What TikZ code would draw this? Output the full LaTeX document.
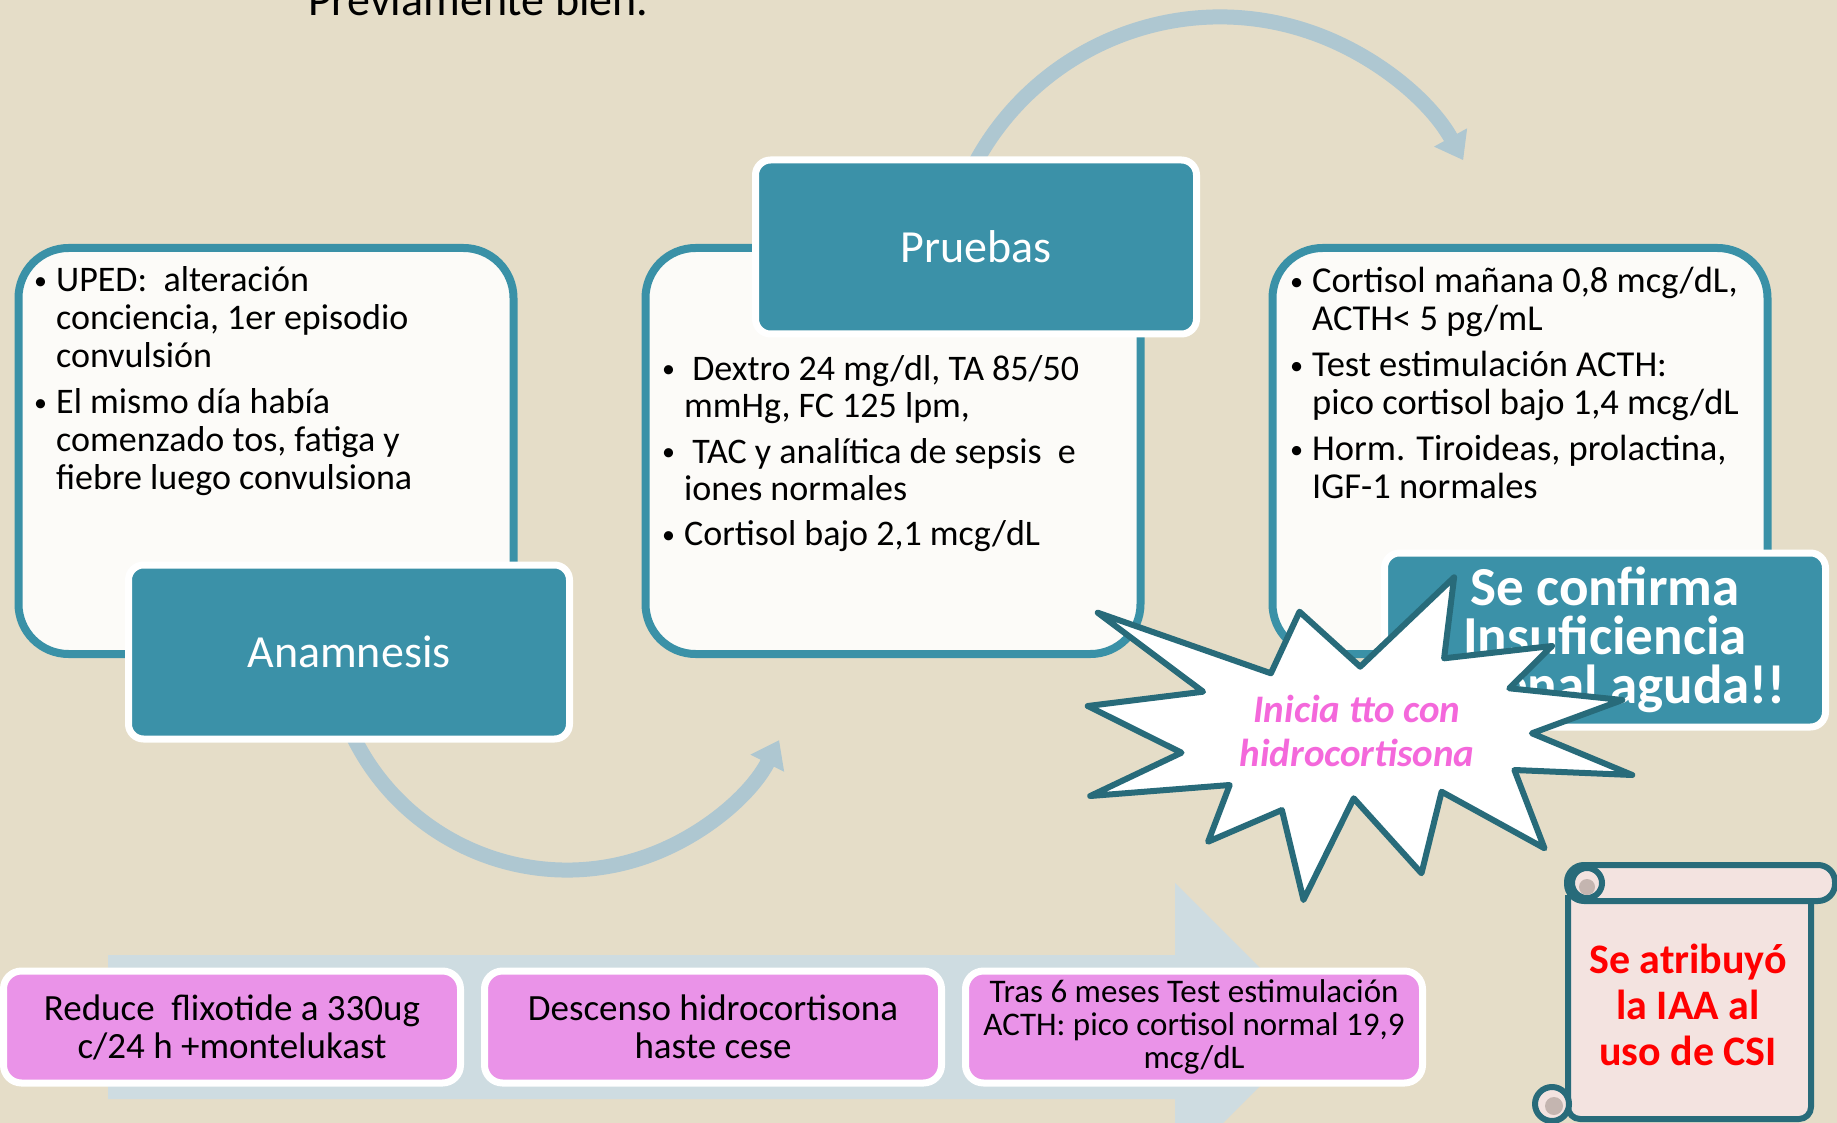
\documentclass[tikz,border=0pt]{standalone}
\usepackage{fontspec}
\setmainfont{Carlito}
\usetikzlibrary{arrows.meta,positioning}

\definecolor{bgbeige}{HTML}{E5DDC8}
\definecolor{tealhead}{HTML}{3B91A8}
\definecolor{tealline}{HTML}{3A91A7}
\definecolor{boxfill}{HTML}{FCFBF8}
\definecolor{arcblue}{HTML}{AEC7D1}
\definecolor{bigarrow}{HTML}{CEDCE1}
\definecolor{pinkbox}{HTML}{EA93E8}
\definecolor{starline}{HTML}{286B7A}
\definecolor{startext}{HTML}{F468DB}
\definecolor{scrollfill}{HTML}{F3E3E0}
\definecolor{curlgray}{HTML}{C4B5B0}

\newcommand{\bul}{\makebox[22pt][l]{\raisebox{2pt}{\scalebox{0.72}{\textbullet}}}}
\newcommand{\ind}{\hspace*{22pt}}

\begin{document}
\begin{tikzpicture}[x=1pt,y=-1pt,node distance=481pt,
  infobox/.style={rounded corners=50pt,draw=tealline,line width=8pt,fill=boxfill,minimum width=495pt,minimum height=406pt},
  headbox/.style={rounded corners=15pt,draw=white,line width=7pt,fill=tealhead,text=white,minimum width=441pt,minimum height=174pt,font=\fontsize{46}{50}\selectfont},
  bullets/.style={anchor=base west,inner sep=0pt,font=\fontsize{36}{38}\selectfont},
  pinkstep/.style={rounded corners=18pt,draw=white,line width=7pt,fill=pinkbox,minimum width=457pt,minimum height=112pt,align=center,font=\fontsize{37}{38}\selectfont},
  arcarrow/.style={draw=arcblue,line width=15pt,-{Triangle[width=36pt,length=26pt]}},
  scrollline/.style={draw=starline,line width=6pt,line join=round}]

\useasboundingbox (0,0) rectangle (1837,1123);
\clip (0,0) rectangle (1837,1123);
\fill[bgbeige] (0,0) rectangle (1837,1123);

\node[anchor=base west,inner sep=0pt,font=\fontsize{46}{50}\selectfont] (previo) at (308,16) {Previamente bien.};

\coordinate (arcAstart) at (343.4,713.4);
\coordinate (arcBstart) at (958.8,199.9);
\draw[arcarrow] (arcAstart) arc[start angle=160,end angle=27,radius=238];
\draw[arcarrow] (arcBstart) arc[start angle=200,end angle=331,radius=278];

\node[infobox] (anabox) at (266,451) {};
\node[infobox] (prubox) [right of = anabox, node distance=627pt] {};
\node[infobox] (diagbox) [right of = prubox, node distance=627pt] {};

\node[bullets] (anatext) at (34,292) {\begin{tabular}[t]{@{}l@{}}\bul UPED:\ \ alteración\\ \ind conciencia, 1er episodio\\ \ind convulsión\\[8pt] \bul El mismo día había\\ \ind comenzado tos, fatiga y\\ \ind fiebre luego convulsiona\end{tabular}};
\node[bullets] (prutext) at (662,380) {\begin{tabular}[t]{@{}l@{}}\bul\ Dextro 24 mg/dl, TA 85/50\\ \ind mmHg, FC 125 lpm,\\[7pt] \bul\ TAC y analítica de sepsis\ \ e\\ \ind iones normales\\[7pt] \bul Cortisol bajo 2,1\ mcg/dL\end{tabular}};
\node[bullets,font=\fontsize{36.5}{38}\selectfont] (diagtext) at (1290,293) {\begin{tabular}[t]{@{}l@{}}\bul Cortisol mañana 0,8 mcg/dL,\\ \ind ACTH< 5 pg/mL\\[8pt] \bul Test estimulación ACTH:\\ \ind pico cortisol bajo 1,4 mcg/dL\\[8pt] \bul Horm. Tiroideas, prolactina,\\ \ind IGF-1\ normales\end{tabular}};

\node[headbox] (anam) at (349,652) {Anamnesis};
\node[headbox] (pruebas) at (976,247) {Pruebas};
\node[headbox,align=center,font=\bfseries\fontsize{55}{49}\selectfont] (confirma) at (1605,640) {Se confirma\\Insuficiencia\\adrenal aguda!!};

\fill[bigarrow] (108,955) -- (1175,955) -- (1175,883) -- (1319,1027) -- (1175,1171) -- (1175,1099) -- (108,1099) -- cycle;

\node[pinkstep] (reduce) at (232,1027) {Reduce\ \ flixotide a 330ug\\c/24 h +montelukast};
\node[pinkstep] (descenso) [right of = reduce] {Descenso hidrocortisona\\haste cese};
\node[pinkstep,font=\fontsize{33}{33}\selectfont] (control) [right of = descenso] {Tras 6 meses Test estimulación\\ACTH: pico cortisol normal 19,9\\mcg/dL};

\draw[draw=starline,line width=6pt,line join=round,fill=white] (1097.7,612.7) -- (1270.9,673.3) -- (1299.5,611.7) -- (1360.2,666.7) -- (1454.1,577.3) -- (1444.1,658.3) -- (1552.0,646) -- (1509.3,688.3) -- (1622.3,700) -- (1531.9,733.3) -- (1632.3,775) -- (1514.4,770) -- (1544.5,848.3) -- (1441.6,791.7) -- (1421.5,873.3) -- (1353.7,798.3) -- (1303.5,900) -- (1281.9,810) -- (1208.1,841.7) -- (1229.7,785) -- (1090.2,796) -- (1181.5,752.7) -- (1087.7,706) -- (1203.1,691.7) -- cycle;
\node[align=center,text=startext,font=\bfseries\itshape\fontsize{39}{44}\selectfont] (inicia) at (1357,731) {Inicia tto con\\hidrocortisona};

\draw[scrollline,fill=scrollfill,rounded corners=12pt] (1568,895) -- (1568,1119) -- (1811,1119) -- (1811,895);
\draw[scrollline,fill=scrollfill,rounded corners=17pt] (1567,865) rectangle (1835,901);
\draw[scrollline,fill=scrollfill] (1587,883) circle (15);
\fill[curlgray] (1587,887) circle (8);
\draw[scrollline,fill=scrollfill] (1552,1104) circle (17);
\fill[curlgray] (1554,1106) circle (9);
\node[align=center,text=red,font=\bfseries\fontsize{42}{46}\selectfont] (atribuyo) at (1688,1005) {Se atribuyó\\la IAA al\\uso de CSI};
\end{tikzpicture}
\end{document}
